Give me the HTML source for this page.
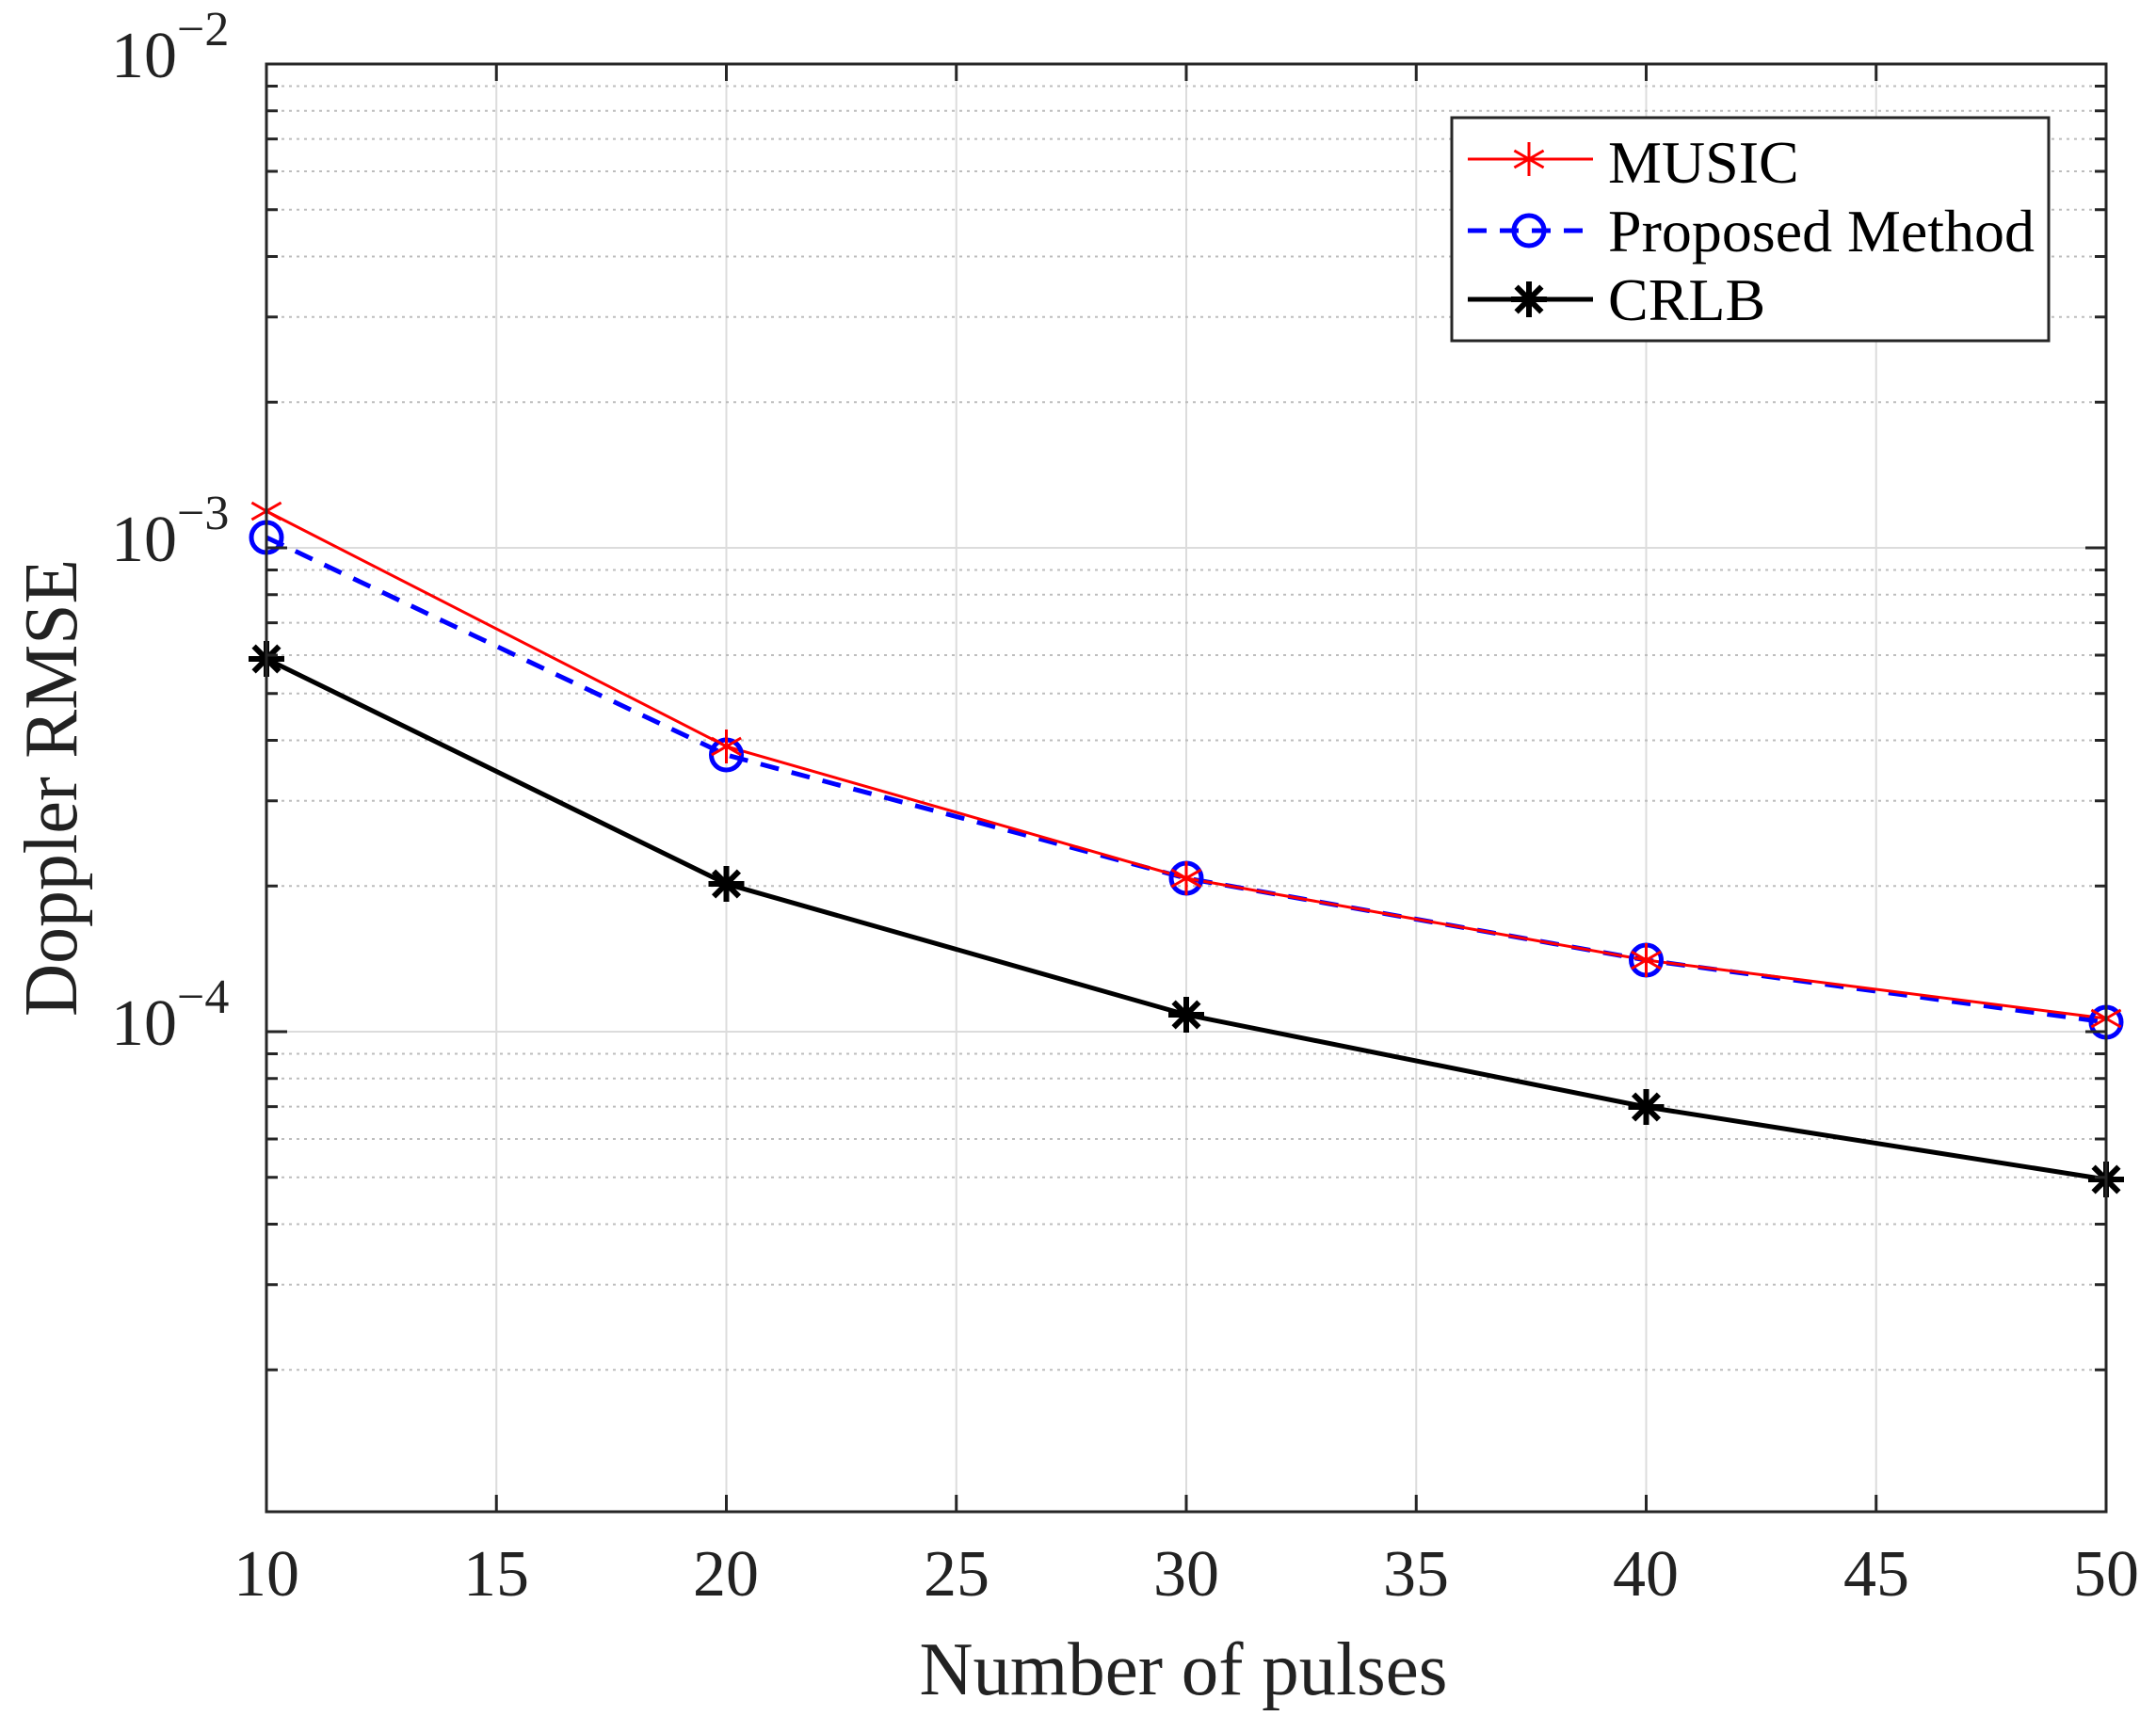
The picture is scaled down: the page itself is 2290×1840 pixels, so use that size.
<!DOCTYPE html>
<html><head><meta charset="utf-8"><style>html,body{margin:0;padding:0;background:#fff}svg{display:block}</style></head>
<body>
<svg width="2290" height="1840" viewBox="0 0 2290 1840" xmlns="http://www.w3.org/2000/svg" xmlns:xlink="http://www.w3.org/1999/xlink" font-family="Liberation Serif, serif">
<defs>
<path id="ms" d="M0,-18V18M-15.6,-9L15.6,9M-15.6,9L15.6,-9" stroke="#ff0000" stroke-width="3" fill="none"/>
<path id="cs" d="M-19,0H19M0,-19V19M-13.4,-13.4L13.4,13.4M-13.4,13.4L13.4,-13.4" stroke="#000" stroke-width="6" fill="none"/>
<circle id="pc" r="16" fill="none" stroke="#0000ff" stroke-width="5"/>
</defs>
<rect width="2290" height="1840" fill="#fff"/>
<g stroke="#dcdcdc" stroke-width="2">
<line x1="527.25" y1="68" x2="527.25" y2="1606"/><line x1="771.5" y1="68" x2="771.5" y2="1606"/>
<line x1="1015.75" y1="68" x2="1015.75" y2="1606"/><line x1="1260" y1="68" x2="1260" y2="1606"/>
<line x1="1504.25" y1="68" x2="1504.25" y2="1606"/><line x1="1748.5" y1="68" x2="1748.5" y2="1606"/>
<line x1="1992.75" y1="68" x2="1992.75" y2="1606"/>
<line x1="283" y1="582" x2="2237" y2="582"/><line x1="283" y1="1096" x2="2237" y2="1096"/>
</g>
<g stroke="#bdbdbd" stroke-width="2" stroke-dasharray="3,5">
<line x1="283" x2="2237" y1="91.5" y2="91.5"/><line x1="283" x2="2237" y1="117.8" y2="117.8"/><line x1="283" x2="2237" y1="147.6" y2="147.6"/><line x1="283" x2="2237" y1="182" y2="182"/><line x1="283" x2="2237" y1="222.7" y2="222.7"/><line x1="283" x2="2237" y1="272.5" y2="272.5"/><line x1="283" x2="2237" y1="336.8" y2="336.8"/><line x1="283" x2="2237" y1="427.3" y2="427.3"/>
<line x1="283" x2="2237" y1="605.5" y2="605.5"/><line x1="283" x2="2237" y1="631.8" y2="631.8"/><line x1="283" x2="2237" y1="661.6" y2="661.6"/><line x1="283" x2="2237" y1="696" y2="696"/><line x1="283" x2="2237" y1="736.7" y2="736.7"/><line x1="283" x2="2237" y1="786.5" y2="786.5"/><line x1="283" x2="2237" y1="850.8" y2="850.8"/><line x1="283" x2="2237" y1="941.3" y2="941.3"/>
<line x1="283" x2="2237" y1="1119.5" y2="1119.5"/><line x1="283" x2="2237" y1="1145.8" y2="1145.8"/><line x1="283" x2="2237" y1="1175.6" y2="1175.6"/><line x1="283" x2="2237" y1="1210" y2="1210"/><line x1="283" x2="2237" y1="1250.7" y2="1250.7"/><line x1="283" x2="2237" y1="1300.5" y2="1300.5"/><line x1="283" x2="2237" y1="1364.8" y2="1364.8"/><line x1="283" x2="2237" y1="1455.3" y2="1455.3"/>
</g>
<polyline points="283,700 771.5,939 1260,1078 1748.5,1176 2237,1253" fill="none" stroke="#000" stroke-width="5"/>
<polyline points="283,571 771.5,802 1260,933 1748.5,1020 2237,1086" fill="none" stroke="#0000ff" stroke-width="5" stroke-dasharray="20,14"/>
<polyline points="283,543 771.5,793 1260,933 1748.5,1020 2237,1082" fill="none" stroke="#ff0000" stroke-width="3"/>
<use xlink:href="#cs" x="283" y="700"/><use xlink:href="#cs" x="771.5" y="939"/><use xlink:href="#cs" x="1260" y="1078"/><use xlink:href="#cs" x="1748.5" y="1176"/><use xlink:href="#cs" x="2237" y="1253"/>
<use xlink:href="#pc" x="283" y="571"/><use xlink:href="#pc" x="771.5" y="802"/><use xlink:href="#pc" x="1260" y="933"/><use xlink:href="#pc" x="1748.5" y="1020"/><use xlink:href="#pc" x="2237" y="1086"/>
<use xlink:href="#ms" x="283" y="543"/><use xlink:href="#ms" x="771.5" y="793"/><use xlink:href="#ms" x="1260" y="933"/><use xlink:href="#ms" x="1748.5" y="1020"/><use xlink:href="#ms" x="2237" y="1082"/>
<rect x="283" y="68" width="1954" height="1538" fill="none" stroke="#262626" stroke-width="3"/>
<g stroke="#262626" stroke-width="3">
<path d="M527.25,1606v-18M771.5,1606v-18M1015.75,1606v-18M1260,1606v-18M1504.25,1606v-18M1748.5,1606v-18M1992.75,1606v-18"/>
<path d="M527.25,68v18M771.5,68v18M1015.75,68v18M1260,68v18M1504.25,68v18M1748.5,68v18M1992.75,68v18"/>
<path d="M283,582h22M283,1096h22M2237,582h-22M2237,1096h-22"/>
<path d="M283,91.5h12M283,117.8h12M283,147.6h12M283,182h12M283,222.7h12M283,272.5h12M283,336.8h12M283,427.3h12M283,605.5h12M283,631.8h12M283,661.6h12M283,696h12M283,736.7h12M283,786.5h12M283,850.8h12M283,941.3h12M283,1119.5h12M283,1145.8h12M283,1175.6h12M283,1210h12M283,1250.7h12M283,1300.5h12M283,1364.8h12M283,1455.3h12"/>
<path d="M2237,91.5h-12M2237,117.8h-12M2237,147.6h-12M2237,182h-12M2237,222.7h-12M2237,272.5h-12M2237,336.8h-12M2237,427.3h-12M2237,605.5h-12M2237,631.8h-12M2237,661.6h-12M2237,696h-12M2237,736.7h-12M2237,786.5h-12M2237,850.8h-12M2237,941.3h-12M2237,1119.5h-12M2237,1145.8h-12M2237,1175.6h-12M2237,1210h-12M2237,1250.7h-12M2237,1300.5h-12M2237,1364.8h-12M2237,1455.3h-12"/>
</g>
<g font-size="70" fill="#222" text-anchor="middle">
<text x="283" y="1695">10</text><text x="527" y="1695">15</text><text x="771" y="1695">20</text>
<text x="1016" y="1695">25</text><text x="1260" y="1695">30</text><text x="1504" y="1695">35</text>
<text x="1748" y="1695">40</text><text x="1993" y="1695">45</text><text x="2237" y="1695">50</text>
</g>
<g fill="#222">
<text x="118" y="82" font-size="70">10<tspan font-size="52" dy="-34">−2</tspan></text>
<text x="118" y="596" font-size="70">10<tspan font-size="52" dy="-34">−3</tspan></text>
<text x="118" y="1110" font-size="70">10<tspan font-size="52" dy="-34">−4</tspan></text>
</g>
<text x="1257" y="1800" font-size="80" fill="#222" text-anchor="middle" textLength="561" lengthAdjust="spacingAndGlyphs">Number of pulses</text>
<text transform="translate(81,837) rotate(-90)" font-size="80" fill="#222" text-anchor="middle" textLength="486" lengthAdjust="spacingAndGlyphs">Doppler RMSE</text>
<rect x="1542" y="125" width="634" height="237" fill="#fff" stroke="#262626" stroke-width="3"/>
<line x1="1559" y1="169" x2="1692" y2="169" stroke="#ff0000" stroke-width="3"/>
<line x1="1559" y1="245" x2="1692" y2="245" stroke="#0000ff" stroke-width="5" stroke-dasharray="20,14"/>
<line x1="1559" y1="318" x2="1692" y2="318" stroke="#000" stroke-width="5"/>
<use xlink:href="#ms" x="1624" y="169"/><use xlink:href="#pc" x="1624" y="245"/><use xlink:href="#cs" x="1624" y="318"/>
<g font-size="64" fill="#000">
<text x="1708" y="194">MUSIC</text>
<text x="1708" y="267" textLength="453" lengthAdjust="spacingAndGlyphs">Proposed Method</text>
<text x="1708" y="340">CRLB</text>
</g>
</svg>
</body></html>
